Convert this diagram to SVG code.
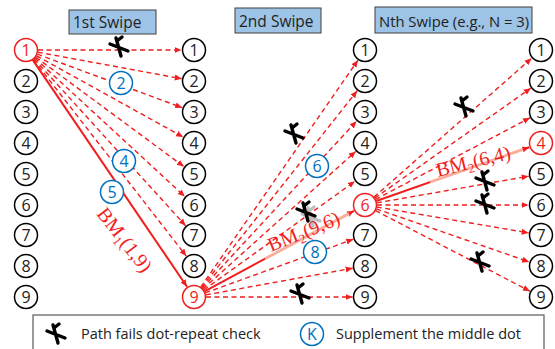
<svg xmlns="http://www.w3.org/2000/svg" width="555" height="349" viewBox="0 0 555 349">
<defs>
<marker id="ah" markerUnits="userSpaceOnUse" markerWidth="8" markerHeight="8" refX="7" refY="4" orient="auto">
<path d="M0,1 L7,4 L0,7 Z" fill="#F01E1E"/>
</marker>
<g id="xmark">
<path d="M-3,-9 Q-0.5,0 2,9 M-9,-3 Q0,0.5 9,4 M-2,-6 L3,-10" fill="none" stroke="#000" stroke-width="3.4" stroke-linecap="round"/>
</g>
</defs>
<style>
.n circle{fill:#fff;stroke:#000;stroke-width:1.5}
.n text{font-family:"Open Sans","Noto Sans",sans-serif;font-size:16px;fill:#222;text-anchor:middle}
.r circle{stroke:#F01E1E}
.r text{fill:#F01E1E}
.b circle{fill:#fff;stroke:#0070C0;stroke-width:1.5}
.b text{font-family:"Open Sans","Noto Sans",sans-serif;font-size:16px;fill:#0070C0;text-anchor:middle}
.d{stroke:#F01E1E;stroke-width:1.4;stroke-dasharray:5,3.5;fill:none;marker-end:url(#ah)}
.s{stroke:#F01E1E;stroke-width:2;fill:none;marker-end:url(#ah)}
.hl{stroke:#F9BBA6;stroke-width:3;fill:none;opacity:0.9}
.hd rect{fill:#9DC3E6;stroke:#404040;stroke-width:1}
.hd text{font-family:"Open Sans","Noto Sans",sans-serif;font-size:15.5px;fill:#222}
.bm{font-family:"Liberation Serif","DejaVu Serif",serif;font-size:20px;fill:#F01E1E}
.lg{font-family:"Open Sans","Noto Sans",sans-serif;font-size:14.5px;fill:#222}
</style>

<g id="headers" class="hd">
<g id="h1"><rect x="69" y="10" width="87" height="24"/><text x="73" y="28">1st Swipe</text></g>
<g id="h2"><rect x="235" y="8" width="86" height="25"/><text x="239" y="27">2nd Swipe</text></g>
<g id="h3"><rect x="375" y="7" width="157" height="26"/><text x="379" y="27" style="font-size:14.8px">Nth Swipe (e.g., N = 3)</text></g>
</g>

<g id="connectors">
<path class="d" d="M38,50 L181.5,50"/>
<path class="d" d="M37.8,52.2 L181.7,78.7"/>
<path class="d" d="M37.3,54.2 L182.3,107.7"/>
<path class="d" d="M36.5,55.8 L183.1,137"/>
<path class="d" d="M35.7,57.1 L183.9,166.6"/>
<path class="d" d="M34.8,58.1 L184.8,196.5"/>
<path class="d" d="M34.1,58.9 L185.6,225.7"/>
<path class="d" d="M33.4,59.5 L186.3,256.1"/>
<path class="s" d="M32.7,59.9 L187,286.7"/>

<path class="d" d="M200.8,287.1 L357.9,60.3"/>
<path class="d" d="M201.4,287.6 L357.2,90.8"/>
<path class="d" d="M202.1,288.2 L356.5,121.2"/>
<path class="d" d="M202.9,289 L355.7,151.4"/>
<path class="d" d="M203.7,290 L354.9,181.3"/>
<path class="s" d="M204.6,291.3 L354,210.9"/>
<path class="hl" d="M265,258.8 L349,213.6"/>
<path class="d" d="M205.3,292.9 L353.2,239.3"/>
<path class="d" d="M205.8,294.9 L352.7,268.2"/>
<path class="d" d="M206,297 L352.5,297"/>

<path class="d" d="M374,197.1 L531.6,58.3"/>
<path class="d" d="M374.8,198.1 L530.8,88.2"/>
<path class="d" d="M375.6,199.4 L530,117.8"/>
<path class="s" d="M376.3,201 L529.2,147.2"/>
<path class="hl" d="M430,182.1 L523,149.4"/>
<path class="d" d="M376.8,202.9 L528.7,176.2"/>
<path class="d" d="M377,205 L528.5,205"/>
<path class="d" d="M376.8,207 L528.7,232.9"/>
<path class="d" d="M376.3,208.9 L529.2,261.9"/>
<path class="d" d="M375.6,210.6 L529.9,291.2"/>
</g>

<g id="labels">
<text class="bm" transform="translate(96,214) rotate(52)">BM<tspan dy="4" font-size="13">1</tspan><tspan dy="-4">(1,9)</tspan></text>
<text class="bm" transform="translate(271,252) rotate(-22)">BM<tspan dy="4" font-size="13">2</tspan><tspan dy="-4">(9,6)</tspan></text>
<text class="bm" transform="translate(438,177) rotate(-14)">BM<tspan dy="4" font-size="13">2</tspan><tspan dy="-4">(6,4)</tspan></text>
</g>

<g id="colA">
<g id="a1" class="n r"><circle cx="26" cy="50" r="11.5"/><text x="26" y="56">1</text></g>
<g id="a2" class="n"><circle cx="26" cy="81" r="11.5"/><text x="26" y="87">2</text></g>
<g id="a3" class="n"><circle cx="26" cy="112" r="11.5"/><text x="26" y="118">3</text></g>
<g id="a4" class="n"><circle cx="26" cy="143" r="11.5"/><text x="26" y="149">4</text></g>
<g id="a5" class="n"><circle cx="26" cy="174" r="11.5"/><text x="26" y="180">5</text></g>
<g id="a6" class="n"><circle cx="26" cy="205" r="11.5"/><text x="26" y="211">6</text></g>
<g id="a7" class="n"><circle cx="26" cy="235" r="11.5"/><text x="26" y="241">7</text></g>
<g id="a8" class="n"><circle cx="26" cy="266" r="11.5"/><text x="26" y="272">8</text></g>
<g id="a9" class="n"><circle cx="26" cy="297" r="11.5"/><text x="26" y="303">9</text></g>
</g>
<g id="colB">
<g id="b1" class="n"><circle cx="194" cy="50" r="11.5"/><text x="194" y="56">1</text></g>
<g id="b2" class="n"><circle cx="194" cy="81" r="11.5"/><text x="194" y="87">2</text></g>
<g id="b3" class="n"><circle cx="194" cy="112" r="11.5"/><text x="194" y="118">3</text></g>
<g id="b4" class="n"><circle cx="194" cy="143" r="11.5"/><text x="194" y="149">4</text></g>
<g id="b5" class="n"><circle cx="194" cy="174" r="11.5"/><text x="194" y="180">5</text></g>
<g id="b6" class="n"><circle cx="194" cy="205" r="11.5"/><text x="194" y="211">6</text></g>
<g id="b7" class="n"><circle cx="194" cy="235" r="11.5"/><text x="194" y="241">7</text></g>
<g id="b8" class="n"><circle cx="194" cy="266" r="11.5"/><text x="194" y="272">8</text></g>
<g id="b9" class="n r"><circle cx="194" cy="297" r="11.5"/><text x="194" y="303">9</text></g>
</g>
<g id="colC">
<g id="c1" class="n"><circle cx="365" cy="50" r="11.5"/><text x="365" y="56">1</text></g>
<g id="c2" class="n"><circle cx="365" cy="81" r="11.5"/><text x="365" y="87">2</text></g>
<g id="c3" class="n"><circle cx="365" cy="112" r="11.5"/><text x="365" y="118">3</text></g>
<g id="c4" class="n"><circle cx="365" cy="143" r="11.5"/><text x="365" y="149">4</text></g>
<g id="c5" class="n"><circle cx="365" cy="174" r="11.5"/><text x="365" y="180">5</text></g>
<g id="c6" class="n r"><circle cx="365" cy="205" r="11.5"/><text x="365" y="211">6</text></g>
<g id="c7" class="n"><circle cx="365" cy="235" r="11.5"/><text x="365" y="241">7</text></g>
<g id="c8" class="n"><circle cx="365" cy="266" r="11.5"/><text x="365" y="272">8</text></g>
<g id="c9" class="n"><circle cx="365" cy="297" r="11.5"/><text x="365" y="303">9</text></g>
</g>
<g id="colD">
<g id="d1" class="n"><circle cx="541" cy="50" r="11.5"/><text x="541" y="56">1</text></g>
<g id="d2" class="n"><circle cx="541" cy="81" r="11.5"/><text x="541" y="87">2</text></g>
<g id="d3" class="n"><circle cx="541" cy="112" r="11.5"/><text x="541" y="118">3</text></g>
<g id="d4" class="n r"><circle cx="541" cy="143" r="11.5"/><text x="541" y="149">4</text></g>
<g id="d5" class="n"><circle cx="541" cy="174" r="11.5"/><text x="541" y="180">5</text></g>
<g id="d6" class="n"><circle cx="541" cy="205" r="11.5"/><text x="541" y="211">6</text></g>
<g id="d7" class="n"><circle cx="541" cy="235" r="11.5"/><text x="541" y="241">7</text></g>
<g id="d8" class="n"><circle cx="541" cy="266" r="11.5"/><text x="541" y="272">8</text></g>
<g id="d9" class="n"><circle cx="541" cy="297" r="11.5"/><text x="541" y="303">9</text></g>
</g>

<g id="supplements">
<g id="s1" class="b"><circle cx="121" cy="83" r="11.5"/><text x="121" y="89">2</text></g>
<g id="s2" class="b"><circle cx="124" cy="161" r="11.5"/><text x="124" y="167">4</text></g>
<g id="s3" class="b"><circle cx="112" cy="192" r="11.5"/><text x="112" y="198">5</text></g>
<g id="s4" class="b"><circle cx="317" cy="166" r="11.5"/><text x="317" y="172">6</text></g>
<g id="s5" class="b"><circle cx="315" cy="252" r="11.5"/><text x="315" y="258">8</text></g>
</g>

<g id="crosses">
<use href="#xmark" x="119" y="47"/>
<use href="#xmark" x="294" y="134"/>
<use href="#xmark" x="311" y="217" opacity="0.25"/>
<use href="#xmark" x="306" y="212"/>
<use href="#xmark" x="300" y="294"/>
<use href="#xmark" x="464" y="107"/>
<use href="#xmark" x="485" y="181"/>
<use href="#xmark" x="485" y="204"/>
<use href="#xmark" x="480" y="262"/>
</g>

<g id="legend">
<rect x="33" y="315" width="511" height="42" fill="#fff" stroke="#595959" stroke-width="1.2"/>
<use href="#xmark" x="56" y="334"/>
<text class="lg" x="81" y="339">Path fails dot-repeat check</text>
<g class="b"><circle cx="312" cy="334" r="11.5"/><text x="312" y="340">K</text></g>
<text class="lg" x="336" y="339">Supplement the middle dot</text>
</g>
</svg>
